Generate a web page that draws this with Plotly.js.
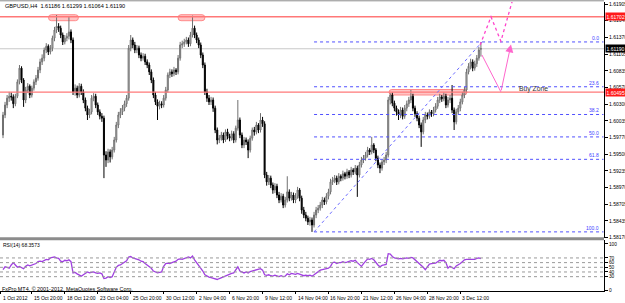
<!DOCTYPE html>
<html><head><meta charset="utf-8">
<script src="https://cdn.plot.ly/plotly-3.0.1.min.js"></script>
<style>html,body{margin:0;padding:0;background:#fff;overflow:hidden}#chart{width:625px;height:303px}</style>
</head><body><div id="chart"></div>
<script>
const symbol = 'GBPUSD,H4';
const openP = [
1.5981,1.6013,1.6029,1.6040,1.6043,1.6042,1.6031,1.6043,1.6066,1.6088,
1.6069,1.6037,1.6053,1.6059,1.6045,1.6056,1.6066,1.6072,1.6085,1.6098,
1.6104,1.6117,1.6123,1.6114,1.6120,1.6136,1.6149,1.6155,1.6152,1.6141,
1.6130,1.6136,1.6139,1.6146,1.6133,1.6050,1.6056,1.6045,1.6059,1.6050,
1.6037,1.6024,1.6013,1.6018,1.6040,1.6043,1.6029,1.6018,1.6011,1.6008,
1.5949,1.5941,1.5954,1.5946,1.5957,1.5973,1.5997,1.6013,1.6018,1.6024,
1.6031,1.6040,1.6120,1.6133,1.6125,1.6117,1.6120,1.6109,1.6104,1.6107,
1.6098,1.6093,1.6082,1.6069,1.6045,1.6034,1.6027,1.6031,1.6029,1.6040,
1.6053,1.6077,1.6082,1.6079,1.6085,1.6082,1.6104,1.6125,1.6127,1.6130,
1.6133,1.6127,1.6141,1.6152,1.6141,1.6133,1.6125,1.6109,1.6093,1.6050,
1.6040,1.6034,1.6037,1.6024,1.5989,1.5973,1.5976,1.5981,1.5973,1.5986,
1.5979,1.5976,1.5983,1.5973,1.5992,1.6005,1.5981,1.5965,1.5973,1.5970,
1.5957,1.5976,1.5989,1.5986,1.5997,1.5989,1.6005,1.5999,1.5917,1.5906,
1.5912,1.5901,1.5893,1.5899,1.5885,1.5877,1.5883,1.5869,1.5877,1.5890,
1.5880,1.5885,1.5877,1.5883,1.5893,1.5880,1.5861,1.5853,1.5848,1.5842,
1.5845,1.5837,1.5853,1.5861,1.5864,1.5869,1.5877,1.5874,1.5883,1.5890,
1.5906,1.5909,1.5912,1.5906,1.5915,1.5912,1.5919,1.5915,1.5922,1.5917,
1.5925,1.5922,1.5928,1.5917,1.5933,1.5941,1.5944,1.5949,1.5957,1.5954,
1.5965,1.5957,1.5944,1.5933,1.5928,1.5938,1.5941,1.5949,1.6037,1.6045,
1.6032,1.6024,1.6018,1.6013,1.6021,1.6011,1.6024,1.6031,1.6037,1.6043,
1.6024,1.6015,1.6008,1.5997,1.5986,1.6005,1.6013,1.6011,1.6018,1.6015,
1.6021,1.6027,1.6037,1.6042,1.6039,1.6043,1.6029,1.6037,1.6040,1.6021,
1.6002,1.6018,1.6024,1.6034,1.6045,1.6053,1.6082,1.6091,1.6098,1.6088,
1.6095,1.6104,1.61186];
const highP = [
1.6018,1.6034,1.6045,1.6050,1.6049,1.6046,1.6047,1.6070,1.6093,1.6091,
1.6072,1.6058,1.6064,1.6062,1.6060,1.6070,1.6077,1.6090,1.6103,1.6110,
1.6121,1.6128,1.6126,1.6125,1.6140,1.6154,1.6173,1.6160,1.6156,1.6145,
1.6141,1.6144,1.6170,1.6150,1.6137,1.6062,1.6060,1.6064,1.6063,1.6054,
1.6041,1.6028,1.6023,1.6045,1.6048,1.6047,1.6033,1.6022,1.6016,1.6012,
1.5955,1.5959,1.5958,1.5962,1.5978,1.6002,1.6018,1.6024,1.6029,1.6036,
1.6045,1.6125,1.6141,1.6137,1.6130,1.6125,1.6124,1.6113,1.6112,1.6111,
1.6102,1.6097,1.6086,1.6073,1.6050,1.6038,1.6036,1.6035,1.6045,1.6058,
1.6081,1.6087,1.6086,1.6090,1.6088,1.6109,1.6130,1.6132,1.6135,1.6138,
1.6137,1.6146,1.6172,1.6156,1.6145,1.6137,1.6129,1.6113,1.6097,1.6055,
1.6045,1.6042,1.6041,1.6028,1.5993,1.5981,1.5986,1.5985,1.5990,1.5991,
1.5983,1.5988,1.5987,1.5996,1.6037,1.6009,1.5985,1.5978,1.5977,1.5974,
1.5980,1.5993,1.5994,1.6002,1.6000,1.6016,1.6010,1.6003,1.5922,1.5917,
1.5916,1.5905,1.5904,1.5903,1.5890,1.5888,1.5887,1.5882,1.5915,1.5894,
1.5890,1.5889,1.5888,1.5898,1.5896,1.5884,1.5866,1.5858,1.5852,1.5850,
1.5849,1.5858,1.5866,1.5869,1.5874,1.5882,1.5881,1.5888,1.5895,1.5911,
1.5914,1.5917,1.5916,1.5920,1.5918,1.5924,1.5922,1.5927,1.5925,1.5930,
1.5928,1.5933,1.5932,1.5938,1.5946,1.5949,1.5954,1.5962,1.5960,1.5978,
1.5968,1.5960,1.5948,1.5937,1.5942,1.5946,1.5954,1.6042,1.6048,1.6049,
1.6036,1.6028,1.6022,1.6026,1.6025,1.6029,1.6036,1.6042,1.6053,1.6047,
1.6028,1.6019,1.6012,1.6001,1.6010,1.6018,1.6017,1.6022,1.6021,1.6026,
1.6032,1.6042,1.6047,1.6045,1.6049,1.6047,1.6042,1.6045,1.6061,1.6025,
1.6023,1.6029,1.6039,1.6050,1.6058,1.6087,1.6096,1.6103,1.6102,1.6100,
1.6109,1.6122,1.61299];
const lowP = [
1.5976,1.6008,1.6024,1.6034,1.6036,1.6024,1.6027,1.6040,1.6062,1.6064,
1.6026,1.6032,1.6048,1.6040,1.6041,1.6052,1.6061,1.6068,1.6080,1.6093,
1.6099,1.6112,1.6109,1.6110,1.6115,1.6131,1.6144,1.6146,1.6136,1.6125,
1.6126,1.6131,1.6134,1.6128,1.6045,1.6044,1.6040,1.6041,1.6045,1.6032,
1.6019,1.6005,1.6008,1.6014,1.6035,1.6024,1.6013,1.6006,1.6002,1.5912,
1.5930,1.5936,1.5937,1.5942,1.5953,1.5969,1.5992,1.6008,1.6013,1.6019,
1.6026,1.6036,1.6115,1.6120,1.6112,1.6112,1.6104,1.6099,1.6100,1.6093,
1.6088,1.6077,1.6064,1.6040,1.6029,1.6005,1.6022,1.6024,1.6025,1.6036,
1.6049,1.6072,1.6074,1.6075,1.6077,1.6078,1.6100,1.6120,1.6122,1.6126,
1.6122,1.6123,1.6137,1.6136,1.6128,1.6120,1.6104,1.6088,1.6045,1.6034,
1.6029,1.6029,1.6018,1.5984,1.5966,1.5968,1.5972,1.5968,1.5970,1.5974,
1.5971,1.5972,1.5968,1.5969,1.5988,1.5976,1.5960,1.5960,1.5965,1.5944,
1.5953,1.5972,1.5980,1.5982,1.5984,1.5985,1.5994,1.5912,1.5900,1.5901,
1.5896,1.5887,1.5888,1.5880,1.5872,1.5873,1.5864,1.5865,1.5873,1.5875,
1.5876,1.5872,1.5872,1.5879,1.5875,1.5855,1.5848,1.5843,1.5837,1.5836,
1.5826,1.5833,1.5848,1.5856,1.5860,1.5864,1.5869,1.5870,1.5878,1.5886,
1.5901,1.5904,1.5901,1.5902,1.5907,1.5908,1.5910,1.5911,1.5912,1.5913,
1.5917,1.5918,1.5882,1.5913,1.5929,1.5936,1.5940,1.5945,1.5949,1.5950,
1.5952,1.5939,1.5928,1.5920,1.5924,1.5933,1.5936,1.5945,1.6030,1.6027,
1.6019,1.6012,1.6005,1.6008,1.6006,1.6007,1.6019,1.6026,1.6032,1.6019,
1.6010,1.6003,1.5992,1.5962,1.5982,1.6000,1.6006,1.6007,1.6010,1.6011,
1.6017,1.6023,1.6032,1.6034,1.6035,1.6024,1.6025,1.6032,1.6016,1.5989,
1.5998,1.6014,1.6019,1.6030,1.6040,1.6049,1.6078,1.6086,1.6083,1.6084,
1.6090,1.6100,1.61064];
const closeP = [
1.6013,1.6029,1.6040,1.6043,1.6042,1.6031,1.6043,1.6066,1.6088,1.6069,
1.6037,1.6053,1.6059,1.6045,1.6056,1.6066,1.6072,1.6085,1.6098,1.6104,
1.6117,1.6123,1.6114,1.6120,1.6136,1.6149,1.6155,1.6152,1.6141,1.6130,
1.6136,1.6139,1.6146,1.6133,1.6050,1.6056,1.6045,1.6059,1.6050,1.6037,
1.6024,1.6013,1.6018,1.6040,1.6043,1.6029,1.6018,1.6011,1.6008,1.5949,
1.5941,1.5954,1.5946,1.5957,1.5973,1.5997,1.6013,1.6018,1.6024,1.6031,
1.6040,1.6120,1.6133,1.6125,1.6117,1.6120,1.6109,1.6104,1.6107,1.6098,
1.6093,1.6082,1.6069,1.6045,1.6034,1.6027,1.6031,1.6029,1.6040,1.6053,
1.6077,1.6082,1.6079,1.6085,1.6082,1.6104,1.6125,1.6127,1.6130,1.6133,
1.6127,1.6141,1.6152,1.6141,1.6133,1.6125,1.6109,1.6093,1.6050,1.6040,
1.6034,1.6037,1.6024,1.5989,1.5973,1.5976,1.5981,1.5973,1.5986,1.5979,
1.5976,1.5983,1.5973,1.5992,1.6005,1.5981,1.5965,1.5973,1.5970,1.5957,
1.5976,1.5989,1.5986,1.5997,1.5989,1.6005,1.5999,1.5917,1.5906,1.5912,
1.5901,1.5893,1.5899,1.5885,1.5877,1.5883,1.5869,1.5877,1.5890,1.5880,
1.5885,1.5877,1.5883,1.5893,1.5880,1.5861,1.5853,1.5848,1.5842,1.5845,
1.5837,1.5853,1.5861,1.5864,1.5869,1.5877,1.5874,1.5883,1.5890,1.5906,
1.5909,1.5912,1.5906,1.5915,1.5912,1.5919,1.5915,1.5922,1.5917,1.5925,
1.5922,1.5928,1.5917,1.5933,1.5941,1.5944,1.5949,1.5957,1.5954,1.5965,
1.5957,1.5944,1.5933,1.5928,1.5938,1.5941,1.5949,1.6037,1.6045,1.6032,
1.6024,1.6018,1.6013,1.6021,1.6011,1.6024,1.6031,1.6037,1.6043,1.6024,
1.6015,1.6008,1.5997,1.5986,1.6005,1.6013,1.6011,1.6018,1.6015,1.6021,
1.6027,1.6037,1.6042,1.6039,1.6043,1.6029,1.6037,1.6040,1.6021,1.6002,
1.6018,1.6024,1.6034,1.6045,1.6053,1.6082,1.6091,1.6098,1.6088,1.6095,
1.6104,1.6117,1.61190];
const rsi = [
45,51,50,48,55,60,55,50,52,50,
47,52,55,53,55,56,58,62,63,62,
65,67,66,70,71,72,70,69,63,62,
65,64,66,62,38,39,36,33,31,34,
37,40,38,39,40,38,37,38,36,26,
27,30,28,30,40,50,54,55,58,62,
64,72,73,70,69,67,66,63,62,58,
55,52,48,42,40,38,39,40,52,58,
59,58,60,62,63,67,68,67,69,70,
72,70,74,66,60,55,48,42,34,31,
29,28,27,25,24,26,28,30,31,33,
36,37,38,45,51,42,40,38,40,38,
41,42,43,44,46,47,44,34,33,34,
32,31,33,31,30,32,30,31,36,34,
37,36,35,37,35,33,32,33,32,33,
31,34,38,42,44,45,46,46,48,52,
60,61,58,60,60,62,60,61,63,64,
63,65,60,55,52,58,64,68,67,69,
66,60,55,51,54,55,56,79,78,73,
70,69,68,69,68,69,70,69,71,70,
66,63,60,56,50,45,52,57,58,59,
59,62,65,64,65,60,48,52,50,47,
53,55,58,62,66,67,67,66,67,67,
69,70,68.3573];

const priceTicks = [1.61905,1.61640,1.61370,1.61105,1.60835,1.60570,1.60300,1.60035,1.59770,1.59500,1.59235,1.58970,1.58705,1.58435,1.58170];
const rsiTicks = [0,30,40,50,60,70,100];
const rsiLevels = [30,40,50,60,70];
const timeTickBars = [-1,14,30,46,62,78,94,110,126,142,158,174,190,206,222];
const timeTickText = ['1 Oct 2012','15 Oct 20:00','18 Oct 12:00','23 Oct 04:00','25 Oct 20:00','30 Oct 12:00','2 Nov 04:00','6 Nov 20:00','9 Nov 12:00','14 Nov 04:00','16 Nov 20:00','21 Nov 12:00','26 Nov 04:00','28 Nov 20:00','3 Dec 12:00'];
const resistance = 1.61702;
const support = 1.60495;
const fibHigh = 1.61299, fibLow = 1.58260, fibLowBar = 151, fibHighBar = 232.5;
const fibLevels = [0.0, 23.6, 38.2, 50.0, 61.8, 100.0];
const zoneX0 = [22.1, 85.0, 187.4];
const zoneX1 = [36.6, 98.0, 225.2];
const zoneY0 = [1.61639, 1.61639, 1.60450];
const zoneY1 = [1.61735, 1.61735, 1.60538];
const projX = [231.6, 236.9, 241.7, 247.1];
const projY = [1.6125, 1.6170, 1.6131, 1.6194];
const arrowX = [232.5, 241.7, 246.6];
const arrowY = [1.6109, 1.6050, 1.6126];
const buyZoneLabel = {text:'Buy Zone', x:249.5, y:1.60545};
const copyright = 'FxPro MT4, © 2001-2012, MetaQuotes Software Corp.';

// geometry
const PH = 291; // plot area height in px (margin t=0, b=12)
const py = px => (PH - px) / PH;
const fnt = (s, c) => ({family:'Liberation Sans, Arial, sans-serif', size:s, color:c||'#000'});
const xs = closeP.map((_, i) => i);

const traces = [
  {type:'candlestick', x:xs, open:openP, high:highP, low:lowP, close:closeP,
   xaxis:'x', yaxis:'y', whiskerwidth:0, hoverinfo:'skip',
   increasing:{line:{color:'#707070', width:1}, fillcolor:'#d8d8d8'},
   decreasing:{line:{color:'#000000', width:1}, fillcolor:'#000000'}},
  {type:'scatter', mode:'lines', x:xs, y:rsi, xaxis:'x', yaxis:'y2',
   line:{color:'#a040e0', width:1.3}, hoverinfo:'skip'}
];

const shapes = [];
shapes.push({type:'line', xref:'paper', yref:'paper', x0:0, x1:1, y0:py(0.8), y1:py(0.8), line:{color:'#8a8a8a', width:1}});
shapes.push({type:'rect', xref:'paper', yref:'paper', x0:0, x1:1, y0:py(240.2), y1:py(237.3), fillcolor:'#8c8c8c', line:{width:0}});
rsiLevels.forEach(v => shapes.push({type:'line', xref:'paper', yref:'y2', x0:0, x1:1, y0:v, y1:v, line:{color:'#9a9a9a', width:1, dash:'dot'}}));
zoneX0.forEach((x0, i) => {
  const x1 = zoneX1[i], y0 = zoneY0[i], y1 = zoneY1[i], ym = (y0 + y1) / 2, r = 1.4;
  shapes.push({type:'path', xref:'x', yref:'y', layer:'below',
    path:`M ${x0+r},${y0} L ${x1-r},${y0} Q ${x1},${y0} ${x1},${ym} Q ${x1},${y1} ${x1-r},${y1} L ${x0+r},${y1} Q ${x0},${y1} ${x0},${ym} Q ${x0},${y0} ${x0+r},${y0} Z`,
    fillcolor:'#ffc4c4', line:{color:'#ff8a8a', width:1}});
});
shapes.push({type:'line', xref:'paper', yref:'y', x0:0, x1:1, y0:closeP[closeP.length-1], y1:closeP[closeP.length-1], layer:'below', line:{color:'#c8c8c8', width:1}});
[resistance, support].forEach(v => shapes.push({type:'line', xref:'paper', yref:'y', x0:0, x1:1, y0:v, y1:v, line:{color:'#ff7878', width:1.3}}));
const fibPrice = l => fibHigh - (fibHigh - fibLow) * l / 100;
fibLevels.forEach(l => shapes.push({type:'line', xref:'x', yref:'y', x0:fibLowBar, x1:291.5, y0:fibPrice(l), y1:fibPrice(l), line:{color:'#5050ff', width:1, dash:'dot'}}));
shapes.push({type:'line', xref:'x', yref:'y', x0:fibLowBar, y0:fibLow, x1:fibHighBar, y1:fibHigh, line:{color:'#6a6aff', width:1, dash:'dot'}});
shapes.push({type:'path', xref:'x', yref:'y', path: projX.map((x, i) => (i ? 'L ' : 'M ') + x + ',' + projY[i]).join(' '), line:{color:'#ff44cc', width:1.3, dash:'dot'}});
shapes.push({type:'line', xref:'x', yref:'y', x0:arrowX[0], y0:arrowY[0], x1:arrowX[1], y1:arrowY[1], line:{color:'#ff66cc', width:1}});

const annotations = [];
annotations.push({xref:'paper', yref:'paper', x:0, y:py(5.5), xanchor:'left', yanchor:'middle', xshift:3, showarrow:false,
  text: symbol + '  ' + [openP, highP, lowP, closeP].map(a => a[a.length-1].toFixed(5)).join(' '), font:fnt(5.6,'#000')});
annotations.push({xref:'paper', yref:'y2', x:0, y:97, xanchor:'left', yanchor:'middle', xshift:1, showarrow:false,
  text:'RSI(14) ' + rsi[rsi.length-1].toFixed(4), font:fnt(5,'#000')});
annotations.push({xref:'paper', yref:'y2', x:0, y:3, xanchor:'left', yanchor:'middle', xshift:0, showarrow:false,
  text:copyright, font:fnt(5.4,'#000')});
timeTickBars.forEach((b, i) => annotations.push({xref:'x', yref:'paper', x:b, y:py(297.5), xanchor:'left', yanchor:'middle', showarrow:false,
  text:timeTickText[i], font:fnt(5,'#000')}));
fibLevels.forEach(l => annotations.push({xref:'paper', yref:'y', x:1, y:fibPrice(l), xanchor:'right', yanchor:'bottom', xshift:-3, yshift:-1, showarrow:false,
  text:l.toFixed(1), font:fnt(5,'#4040ff')}));
annotations.push({xref:'x', yref:'y', x:buyZoneLabel.x, y:buyZoneLabel.y, xanchor:'left', yanchor:'middle', showarrow:false, text:buyZoneLabel.text, font:fnt(6.8,'#333333')});
annotations.push({xref:'x', yref:'y', axref:'x', ayref:'y', x:arrowX[2], y:arrowY[2], ax:arrowX[1], ay:arrowY[1], showarrow:true, arrowhead:2, arrowsize:1.6, arrowwidth:1, arrowcolor:'#ff66cc', text:''});
[[resistance,'#ff1a1a'],[support,'#ff1a1a'],[closeP[closeP.length-1],'#000000']].forEach(([v,c]) => annotations.push({xref:'paper', yref:'y', x:1, y:v, xanchor:'left', yanchor:'middle', xshift:1, showarrow:false,
  text:v.toFixed(5), font:fnt(5,'#ffffff'), bgcolor:c, borderpad:0.6}));

const layout = {
  width:625, height:303, margin:{l:0, r:21, t:0, b:12}, paper_bgcolor:'#ffffff', plot_bgcolor:'#ffffff', showlegend:false,
  xaxis:{range:[-1.456, 291.75], anchor:'y2', showticklabels:false, tickvals:timeTickBars, ticks:'outside', ticklen:2, tickcolor:'#000',
    showline:true, linecolor:'#000', linewidth:1, showgrid:false, zeroline:false, rangeslider:{visible:false}, fixedrange:true},
  yaxis:{domain:[py(237.5), py(2)], range:[1.58170, 1.61938], side:'right', anchor:'x', tickvals:priceTicks, ticktext:priceTicks.map(v => v.toFixed(5)),
    ticks:'outside', ticklen:3, tickcolor:'#000', tickfont:fnt(5,'#000'), showline:true, linecolor:'#000', showgrid:false, zeroline:false, fixedrange:true},
  yaxis2:{domain:[0, py(240.2)], range:[-0.64, 107.9], side:'right', anchor:'x', tickvals:rsiTicks, ticktext:rsiTicks.map(String),
    ticks:'outside', ticklen:3, tickcolor:'#000', tickfont:fnt(4.8,'#000'), showline:true, linecolor:'#000', showgrid:false, zeroline:false, fixedrange:true},
  shapes, annotations
};
Plotly.newPlot('chart', traces, layout, {staticPlot:true, displayModeBar:false});
</script></body></html>
